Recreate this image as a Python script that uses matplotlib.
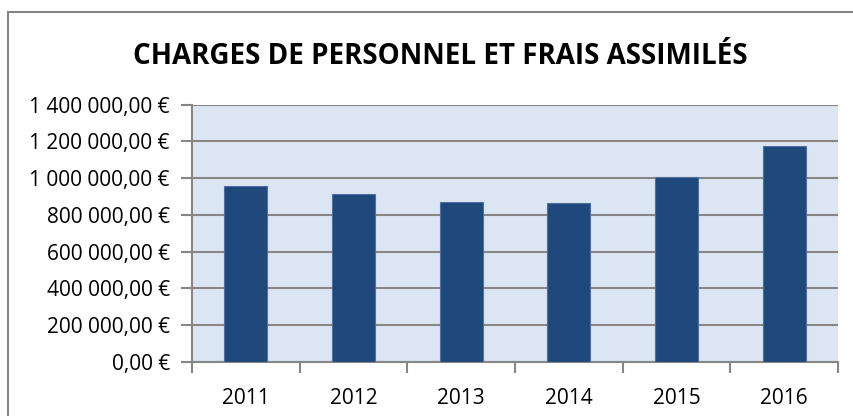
import matplotlib.pyplot as plt
from matplotlib.patches import Rectangle
from matplotlib.ticker import FuncFormatter

# Données
annees = ["2011", "2012", "2013", "2014", "2015", "2016"]
charges = [958000, 913000, 868000, 863000, 1004000, 1173000]
titre = "CHARGES DE PERSONNEL ET FRAIS ASSIMILÉS"

plt.rcParams['font.family'] = ['Open Sans', 'DejaVu Sans']

fig = plt.figure(figsize=(8.54, 4.16), dpi=100)
fig.patch.set_facecolor("white")

# cadre extérieur
fig.patches.append(Rectangle((8 / 854, -0.05), 1.0, 1 - 12 / 416 + 0.05,
                             transform=fig.transFigure, fill=False,
                             edgecolor="#868686", linewidth=1.5))

ax = fig.add_axes([192 / 854, 1 - 362 / 416, (838 - 192) / 854, (362 - 104.5) / 416])
ax.set_facecolor("#DCE6F2")

x = range(len(annees))
ax.bar(x, charges, width=0.4, color="#1F497D", edgecolor="#4F6F9F",
       linewidth=0.8, zorder=3)

ax.set_xlim(-0.5, len(annees) - 0.5)
ax.set_ylim(0, 1400000)
ax.set_yticks(range(0, 1400001, 200000))
ax.yaxis.set_major_formatter(FuncFormatter(
    lambda v, p: f"{int(v):,}".replace(",", " ") + ",00 €"))
ax.set_xticks([i - 0.5 for i in range(len(annees) + 1)], minor=False)
ax.set_xticklabels([])
ax.set_xticks(list(x), minor=True)
ax.set_xticklabels(annees, minor=True)

ax.grid(axis="y", color="#868686", linewidth=1.5, zorder=1)
for s in ["top", "right"]:
    ax.spines[s].set_visible(False)
for s in ["left", "bottom"]:
    ax.spines[s].set_color("#868686")
    ax.spines[s].set_linewidth(1.5)

ax.tick_params(axis="y", which="major", length=8, width=1.5, color="#868686",
               labelsize=15, pad=8)
ax.tick_params(axis="x", which="major", length=8, width=1.5, color="#868686")
ax.tick_params(axis="x", which="minor", length=0, labelsize=15, pad=19)

fig.text(440 / 854, 1 - 56 / 416, titre, ha="center", va="center",
         fontsize=20, fontweight="bold")

fig.savefig("out.png", dpi=100)
